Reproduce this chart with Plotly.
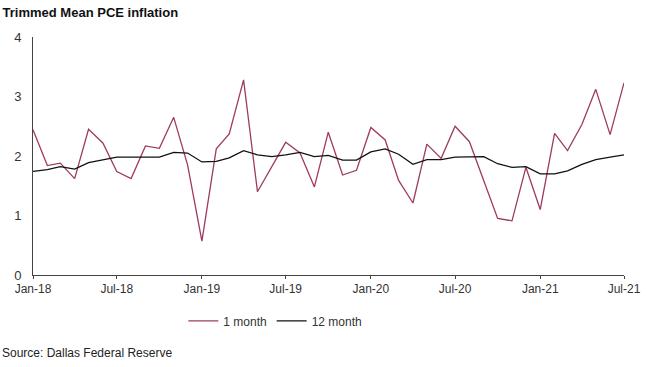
import plotly.graph_objects as go
import pandas as pd

months = pd.date_range("2018-01-01", "2021-07-01", freq="MS")

one_month = [2.44, 1.84, 1.88, 1.62, 2.45, 2.22, 1.74, 1.62, 2.17, 2.13, 2.65, 1.85,
             0.57, 2.12, 2.37, 3.28, 1.40, 1.82, 2.23, 2.05, 1.48, 2.40, 1.68, 1.76,
             2.48, 2.27, 1.59, 1.21, 2.20, 1.96, 2.50, 2.24, 1.60, 0.95, 0.91, 1.81,
             1.10, 2.38, 2.09, 2.53, 3.12, 2.36, 3.23]

twelve_month = [1.74, 1.77, 1.82, 1.78, 1.89, 1.94, 1.98, 1.98, 1.98, 1.98, 2.06, 2.05,
                1.90, 1.91, 1.97, 2.09, 2.02, 1.99, 2.02, 2.06, 1.99, 2.01, 1.93, 1.93,
                2.07, 2.12, 2.03, 1.86, 1.94, 1.94, 1.98, 1.99, 1.99, 1.87, 1.81, 1.82,
                1.70, 1.70, 1.75, 1.86, 1.94, 1.98, 2.02]

title = "<b>Trimmed Mean PCE inflation</b>"
source = "Source: Dallas Federal Reserve"

font = "Liberation Sans, Arial, sans-serif"

fig = go.Figure()
fig.add_trace(go.Scatter(x=months, y=one_month, mode="lines", name="1 month",
                         line=dict(color="#9E3A63", width=1.3)))
fig.add_trace(go.Scatter(x=months, y=twelve_month, mode="lines", name="12 month",
                         line=dict(color="#111111", width=1.3)))

fig.update_layout(
    width=647, height=367,
    margin=dict(l=33, r=23, t=37, b=92, autoexpand=False),
    paper_bgcolor="white", plot_bgcolor="white",
    font=dict(family=font, size=12, color="#333333"),
    title=dict(text=title, x=0.004, xanchor="left", y=0.967, yanchor="middle",
               font=dict(family=font, size=13, color="#111111")),
    showlegend=True,
    legend=dict(orientation="h", x=0.41, xanchor="center", y=-0.193, yanchor="middle",
                font=dict(size=12, color="#333333"), itemwidth=30, tracegroupgap=0),
    annotations=[dict(text=source, xref="paper", yref="paper", x=-0.055, y=-0.328,
                      xanchor="left", yanchor="middle", showarrow=False,
                      font=dict(size=12, color="#222222"))],
)

fig.update_xaxes(
    type="date", range=["2018-01-01", "2021-07-01"], dtick="M6", tick0="2018-01-01",
    tickformat="%b-%y", showgrid=False, zeroline=False, showline=True, automargin=False,
    linecolor="#444444", linewidth=1, ticks="outside", ticklen=3, tickcolor="#444444",
    tickfont=dict(size=12, color="#333333"),
)
fig.update_yaxes(
    range=[0, 4], dtick=1, showgrid=False, zeroline=False, showline=True, automargin=False,
    linecolor="#444444", linewidth=1, ticks="", ticklabelstandoff=8,
    tickfont=dict(size=13, color="#333333"),
)

fig.write_html("out.html", config={"displayModeBar": False},
               post_script="document.body.style.margin='0';")
